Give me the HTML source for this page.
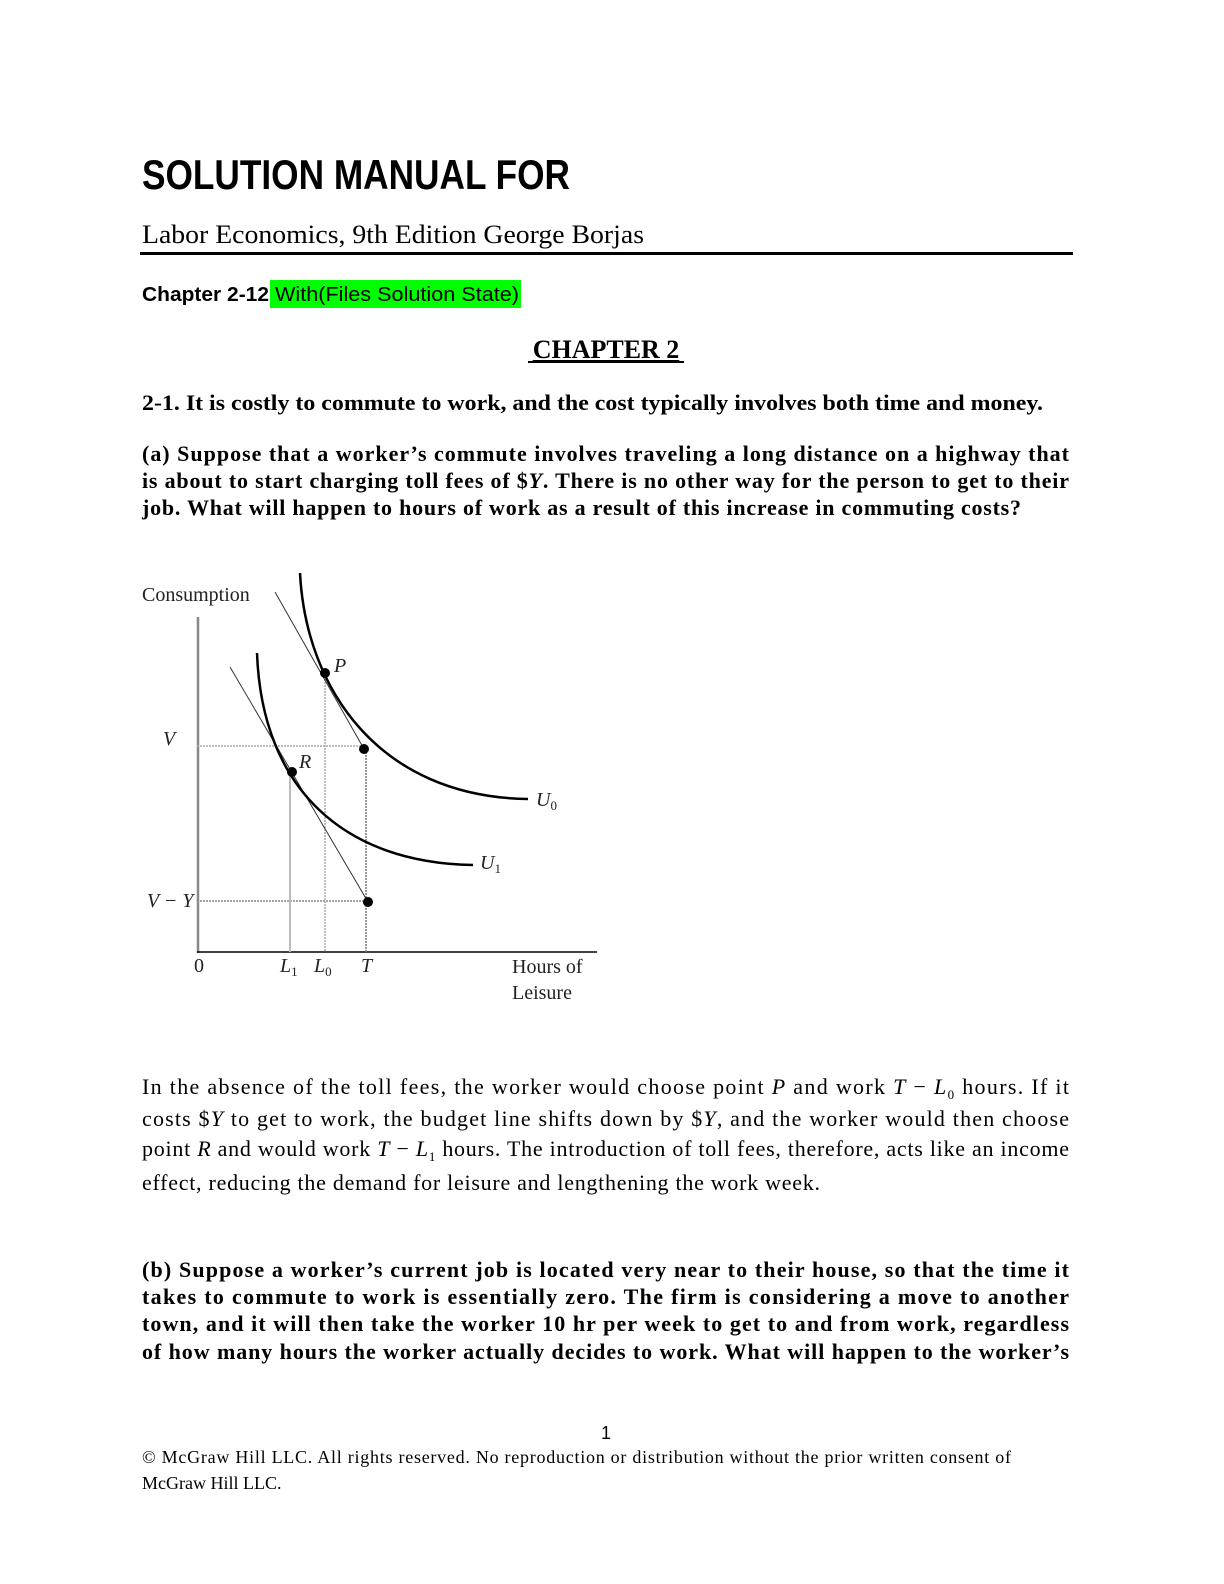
<!DOCTYPE html>
<html><head><meta charset="utf-8"><style>
html,body{margin:0;padding:0;background:#fff}
svg{display:block}
.s{font-family:"Liberation Serif",serif}
.b{font-weight:bold}
</style></head><body>
<svg width="1224" height="1584" viewBox="0 0 1224 1584" xmlns="http://www.w3.org/2000/svg">
<text x="142" y="189" font-family="Liberation Sans, sans-serif" font-weight="bold" font-size="42" textLength="428" lengthAdjust="spacingAndGlyphs">SOLUTION MANUAL FOR</text>
<text class="s" x="142" y="243" font-size="26" textLength="502" lengthAdjust="spacingAndGlyphs">Labor Economics, 9th Edition George Borjas</text>
<rect x="140" y="252" width="933" height="3" fill="#000"/>
<rect x="270" y="280" width="251" height="28" fill="#00ff00"/>
<text x="142" y="301" font-family="Liberation Sans, sans-serif" font-size="20"><tspan font-weight="bold" textLength="127" lengthAdjust="spacingAndGlyphs">Chapter 2-12</tspan></text>
<text x="275" y="301" font-family="Liberation Sans, sans-serif" font-size="20" textLength="244" lengthAdjust="spacingAndGlyphs">With(Files Solution State)</text>
<text class="s b" x="606" y="358" font-size="26" text-anchor="middle" text-decoration="underline">CHAPTER 2</text>
<rect x="528" y="361" width="156" height="2" fill="#000"/>
<g class="s b" font-size="22">
<text x="142" y="410" textLength="901" lengthAdjust="spacingAndGlyphs">2-1.  It is costly to commute to work, and the cost typically involves both time and money.</text>
<text x="142" y="461" textLength="927" lengthAdjust="spacing">(a)  Suppose that a worker’s commute involves traveling a long distance on a highway that</text>
<text x="142" y="488" textLength="927" lengthAdjust="spacing">is about to start charging toll fees of $<tspan font-style="italic">Y</tspan>. There is no other way for the person to get to their</text>
<text x="142" y="515" textLength="879" lengthAdjust="spacing">job. What will happen to hours of work as a result of this increase in commuting costs?</text>
</g>
<!-- graph -->
<g fill="none">
<line x1="198" y1="617" x2="198" y2="953" stroke="#888" stroke-width="2.5"/>
<line x1="197" y1="952" x2="597" y2="952" stroke="#000" stroke-width="1.5"/>
<line x1="197" y1="746" x2="364" y2="746" stroke="#aaa" stroke-width="1.5" stroke-dasharray="2,1"/>
<line x1="197" y1="901" x2="368" y2="901" stroke="#888" stroke-width="1.5" stroke-dasharray="2,1"/>
<line x1="325" y1="673" x2="325" y2="952" stroke="#aaa" stroke-width="1.5" stroke-dasharray="2,1"/>
<line x1="366" y1="749" x2="366" y2="952" stroke="#777" stroke-width="1.5" stroke-dasharray="2,1"/>
<line x1="290" y1="772" x2="290" y2="952" stroke="#bbb" stroke-width="2"/>
<line x1="275" y1="592" x2="364" y2="749" stroke="#333" stroke-width="1"/>
<line x1="230" y1="667" x2="368" y2="902" stroke="#333" stroke-width="1"/>
<path d="M300,573 C306,690 380,797 528,799" stroke="#000" stroke-width="2.5"/>
<path d="M257,653 C262,790 345,863 473,865" stroke="#000" stroke-width="2.5"/>
</g>
<g fill="#000">
<circle cx="325" cy="673" r="5"/><circle cx="364" cy="749" r="5"/>
<circle cx="292" cy="772" r="5"/><circle cx="368" cy="902" r="5"/>
</g>
<g class="s" font-size="20" fill="#222">
<text x="142" y="601">Consumption</text>
<text x="163" y="745" font-style="italic">V</text>
<text x="147" y="907" font-style="italic">V − Y</text>
<text x="334" y="672" font-style="italic">P</text>
<text x="299" y="768" font-style="italic">R</text>
<text x="536" y="806" font-style="italic">U<tspan font-size="13" dy="4" font-style="normal">0</tspan></text>
<text x="480" y="869" font-style="italic">U<tspan font-size="13" dy="4" font-style="normal">1</tspan></text>
<text x="194" y="972">0</text>
<text x="280" y="972" font-style="italic">L<tspan font-size="13" dy="4" font-style="normal">1</tspan></text>
<text x="314" y="972" font-style="italic">L<tspan font-size="13" dy="4" font-style="normal">0</tspan></text>
<text x="361" y="972" font-style="italic">T</text>
<text x="512" y="973">Hours of</text>
<text x="512" y="999">Leisure</text>
</g>
<g class="s" font-size="22">
<text x="142" y="1094" textLength="927" lengthAdjust="spacing">In the absence of the toll fees, the worker would choose point <tspan font-style="italic">P</tspan> and work <tspan font-style="italic">T</tspan> − <tspan font-style="italic">L</tspan><tspan font-size="13" dy="5">0</tspan><tspan dy="-5"> hours. If it</tspan></text>
<text x="142" y="1126" textLength="927" lengthAdjust="spacing">costs $<tspan font-style="italic">Y</tspan> to get to work, the budget line shifts down by $<tspan font-style="italic">Y</tspan>, and the worker would then choose</text>
<text x="142" y="1156" textLength="927" lengthAdjust="spacing">point <tspan font-style="italic">R</tspan> and would work <tspan font-style="italic">T</tspan> − <tspan font-style="italic">L</tspan><tspan font-size="13" dy="5">1</tspan><tspan dy="-5"> hours. The introduction of toll fees, therefore, acts like an income</tspan></text>
<text x="142" y="1190" textLength="678" lengthAdjust="spacing">effect, reducing the demand for leisure and lengthening the work week.</text>
</g>
<g class="s b" font-size="22">
<text x="142" y="1277" textLength="927" lengthAdjust="spacing">(b)  Suppose a worker’s current job is located very near to their house, so that the time it</text>
<text x="142" y="1304" textLength="927" lengthAdjust="spacing">takes to commute to work is essentially zero. The firm is considering a move to another</text>
<text x="142" y="1331" textLength="927" lengthAdjust="spacing">town, and it will then take the worker 10 hr per week to get to and from work, regardless</text>
<text x="142" y="1359" textLength="927" lengthAdjust="spacing">of how many hours the worker actually decides to work. What will happen to the worker’s</text>
</g>
<text x="606" y="1439" font-family="Liberation Sans, sans-serif" font-size="18" text-anchor="middle">1</text>
<g class="s" font-size="18">
<text x="142" y="1463" textLength="869" lengthAdjust="spacing">© McGraw Hill LLC. All rights reserved. No reproduction or distribution without the prior written consent of</text>
<text x="142" y="1489">McGraw Hill LLC.</text>
</g>
</svg>
</body></html>
